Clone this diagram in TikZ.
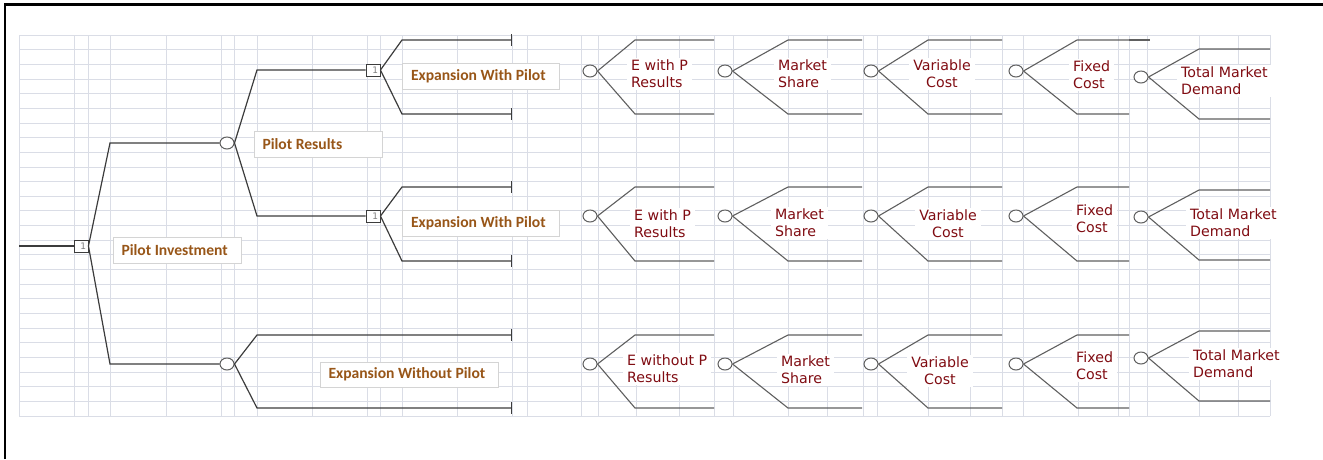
\documentclass[tikz,border=0pt]{standalone}
\usepackage{fontspec}
\usepackage{tikz}
\usetikzlibrary{shapes.geometric, arrows.meta, positioning}
\usepackage{xcolor}
\newfontfamily\tagfont{Carlito}
\newfontfamily\uncfont{DejaVu Sans}
\definecolor{gridgray}{RGB}{218,221,230}
\definecolor{treegray}{RGB}{60,60,60}
\definecolor{fangray}{RGB}{95,95,95}
\definecolor{tagbrown}{RGB}{152,86,24}
\definecolor{tagborder}{RGB}{212,212,212}
\definecolor{uncred}{RGB}{128,12,18}

\begin{document}
\begin{tikzpicture}[
  x=1pt, y=-1pt,
  every node/.style={inner sep=0pt},
  gridline/.style={draw=gridgray, line width=0.7pt},
  branch/.style={draw=treegray, line width=1.2pt},
  fan/.style={draw=fangray, line width=1.1pt},
  endbar/.style={-{Bar[width=12pt]}},
  decision/.style={rectangle, draw=treegray, fill=white, line width=0.9pt,
    minimum width=14pt, minimum height=12pt, text width=10pt, align=right,
    font=\uncfont\fontsize{9}{9}\selectfont, text=gray},
  chance/.style={ellipse, draw=fangray, fill=white, line width=1pt,
    minimum width=14pt, minimum height=12pt},
  tag/.style={rectangle, draw=tagborder, fill=white, line width=0.8pt,
    inner xsep=8.5pt, minimum height=26pt,
    font=\tagfont\bfseries\fontsize{15.6}{17}\selectfont, text=tagbrown},
  uncert/.style={fill=white, inner xsep=4pt, inner ysep=2pt, align=left,
    font=\uncfont\fontsize{14.2}{17}\selectfont, text=uncred}
]

\useasboundingbox (0,0) rectangle (1323,459);
\draw[line width=2.2pt] (5,459) -- (5,4.5) -- (1323,4.5);

\foreach \gy in {35,49.65,...,417}
  \draw[gridline] (19,\gy) -- (1270,\gy);
\foreach \gx in {19,74,88,110,166,221,234,257,312,367,380,402,457,512,527,581,598,636,
  679,714,733,788,827,863,877,928,970,1002,1023,1078,1118,1129,1147,1199,1238,1270}
  \draw[gridline] (\gx,35) -- (\gx,416);

\coordinate (start) at (19,246);
\node[decision] (root) at (81,246) {1};
\node[chance] (pilot) at (227,143) {};
\node[chance] (nopilot) at (227,364) {};
\node[decision] (exp1) at (373,70) {1};
\node[decision] (exp2) at (373,216) {1};

\coordinate (end1a) at (512,40);
\coordinate (end1b) at (512,114);
\coordinate (end2a) at (512,187);
\coordinate (end2b) at (512,261);
\coordinate (end3a) at (512,335);
\coordinate (end3b) at (512,408);

\draw[branch] (start) -- (root.west);
\draw[branch] (root.east) -- (110,143) -- (pilot.west);
\draw[branch] (root.east) -- (110,364) -- (nopilot.west);
\draw[branch] (pilot.east) -- (257,70) -- (exp1.west);
\draw[branch] (pilot.east) -- (257,216) -- (exp2.west);
\draw[branch, endbar] (exp1.east) -- (402,40) -- (end1a);
\draw[branch, endbar] (exp1.east) -- (402,114) -- (end1b);
\draw[branch, endbar] (exp2.east) -- (402,187) -- (end2a);
\draw[branch, endbar] (exp2.east) -- (402,261) -- (end2b);
\draw[branch, endbar] (nopilot.east) -- (257,335) -- (end3a);
\draw[branch, endbar] (nopilot.east) -- (257,408) -- (end3b);

\node[tag] (tinvest) at (177,250) {\makebox[111pt][l]{Pilot Investment}};
\node[tag] (tresults) at (318,144) {\makebox[111pt][l]{Pilot Results}};
\node[tag] (texp1) at (481,76) {\makebox[140pt][l]{Expansion With Pilot}};
\node[tag] (texp2) at (481,223) {\makebox[140pt][l]{Expansion With Pilot}};
\node[tag, minimum height=25pt] (tnopilot) at (409,374.5) {\makebox[161pt][l]{Expansion Without Pilot}};

\foreach \c/\cx/\kx/\ex in {1/590/635/714, 2/725/788/862, 3/871/928/1002, 4/1016/1077/1129, 5/1141/1199/1270}
  \foreach \r/\cy/\ty/\by in {1/71/40/114, 2/216/187/261, 3/364/335/408} {
    \ifnum\c=5
      \pgfmathsetmacro\cy{\cy==71 ? 77 : (\cy==216 ? 217 : 358)}
      \pgfmathsetmacro\ty{\ty==40 ? 49 : (\ty==187 ? 190 : 331)}
      \pgfmathsetmacro\by{\by==114 ? 119 : (\by==261 ? 260 : 401)}
    \fi
    \node[chance] (u\c\r) at (\cx,\cy) {};
    \coordinate (ua\c\r) at (\ex,\ty);
    \coordinate (ub\c\r) at (\ex,\by);
    \draw[fan] (u\c\r.east) -- (\kx,\ty) -- (ua\c\r);
    \draw[fan] (u\c\r.east) -- (\kx,\by) -- (ub\c\r);
  }
\draw[fan] (ua41) -- (1150,40);

\node[uncert, anchor=west] (lep1) at (627,74) {E with P\\Results};
\node[uncert, anchor=west] (lep2) at (630,223.5) {E with P\\Results};
\node[uncert, anchor=west] (lenp) at (623,368.5) {E without P\\Results};
\node[uncert, anchor=west] (lms1) at (774,73.5) {Market\\Share};
\node[uncert, anchor=west] (lms2) at (771,222.5) {Market\\Share};
\node[uncert, anchor=west] (lms3) at (777,369.5) {Market\\Share};
\node[uncert, align=center] (lvc1) at (942,73.5) {Variable\\Cost};
\node[uncert, align=center] (lvc2) at (948,223.5) {Variable\\Cost};
\node[uncert, align=center] (lvc3) at (940,370.5) {Variable\\Cost};
\node[uncert, anchor=west] (lfc1) at (1069,74.5) {Fixed\\Cost};
\node[uncert, anchor=west] (lfc2) at (1072,218.5) {Fixed\\Cost};
\node[uncert, anchor=west] (lfc3) at (1072,365.5) {Fixed\\Cost};
\node[uncert, anchor=west] (ltd1) at (1177,80.5) {Total Market\\Demand};
\node[uncert, anchor=west] (ltd2) at (1186,222.5) {Total Market\\Demand};
\node[uncert, anchor=west] (ltd3) at (1189,363.5) {Total Market\\Demand};

\end{tikzpicture}
\end{document}
